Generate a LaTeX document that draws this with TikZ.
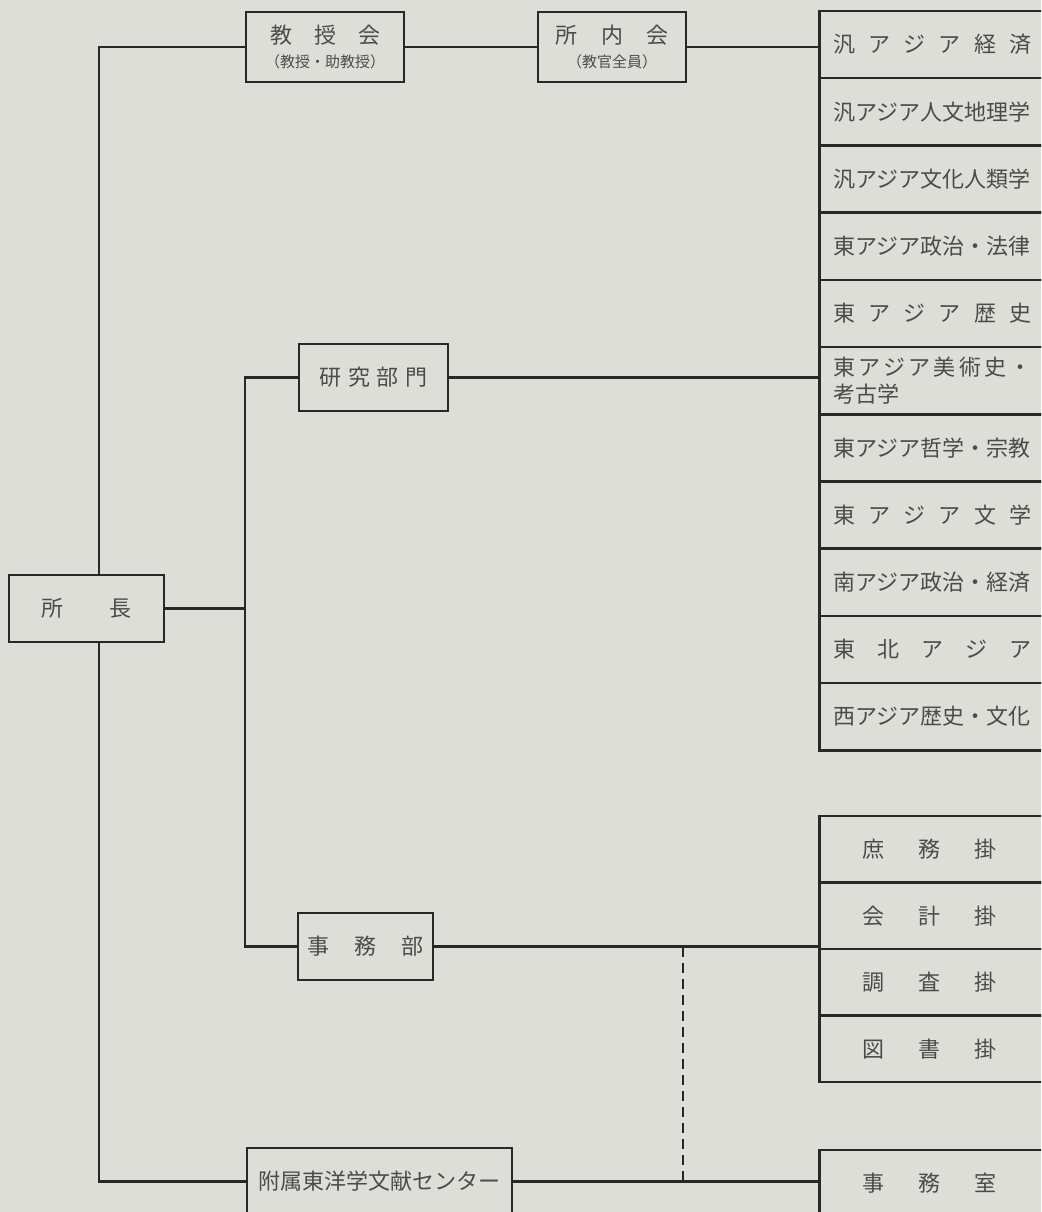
\documentclass[tikz,border=0pt]{standalone}
\usepackage{fontspec}
\setmainfont{Noto Sans CJK JP}
\definecolor{paper}{RGB}{221,222,216}
\definecolor{ink}{RGB}{40,40,40}
\definecolor{type}{RGB}{75,75,75}
\newcommand{\spaced}[2]{\makebox[#1pt][s]{#2}}

\begin{document}
\begin{tikzpicture}[x=1pt, y=-1pt,
  box/.style={draw=ink, line width=2.6pt, text=type, inner sep=0pt, font=\fontsize{22}{27}\selectfont},
  unit/.style={box, anchor=west, minimum height=67.2pt, text width=230pt, align=left, inner xsep=14pt},
  office/.style={box, anchor=west, minimum height=66.5pt, text width=200pt, align=left, inner xsep=43pt},
  link/.style={draw=ink, line width=2.6pt}]
\fill[paper] (0,0) rectangle (1041,1212);
\useasboundingbox (0,0) rectangle (1041,1212);
\clip (0,0) rectangle (1041,1212);

\node[box, minimum width=155pt, minimum height=67pt] (chief) at (86.5,608.5) {\spaced{90}{所\hfill 長}};
\node[box, minimum width=158pt, minimum height=70pt, align=center] (kyoju) at (325,47) {\spaced{110}{教\hfill 授\hfill 会}\\[-3pt]{\fontsize{15}{17}\selectfont （教授・助教授）}};
\node[box, minimum width=148pt, minimum height=70pt, align=center] (shonai) at (612,47) {\spaced{113}{所\hfill 内\hfill 会}\\[-3pt]{\fontsize{15}{17}\selectfont （教官全員）}};
\node[box, minimum width=149pt, minimum height=67pt] (kenkyu) at (373.5,377.5) {\spaced{109}{研\hfill 究\hfill 部\hfill 門}};
\node[box, minimum width=135pt, minimum height=67pt] (jimubu) at (365.5,946.5) {\spaced{116}{事\hfill 務\hfill 部}};
\node[box, minimum width=265pt, minimum height=67pt] (bunken) at (379.5,1181.5) {附属東洋学文献センター};

\node[unit] (u1) at (818,44.6) {\spaced{198}{汎\hfill ア\hfill ジ\hfill ア\hfill 経\hfill 済}};
\node[unit] (u2) at (818,111.8) {汎アジア人文地理学};
\node[unit] (u3) at (818,179) {汎アジア文化人類学};
\node[unit] (u4) at (818,246.2) {東アジア政治・法律};
\node[unit] (u5) at (818,313.4) {\spaced{198}{東\hfill ア\hfill ジ\hfill ア\hfill 歴\hfill 史}};
\node[unit] (u6) at (818,380.6) {\spaced{198}{東\hfill ア\hfill ジ\hfill ア\hfill 美\hfill 術\hfill 史\hfill ・}\\考古学};
\node[unit] (u7) at (818,447.8) {東アジア哲学・宗教};
\node[unit] (u8) at (818,515) {\spaced{198}{東\hfill ア\hfill ジ\hfill ア\hfill 文\hfill 学}};
\node[unit] (u9) at (818,582.2) {南アジア政治・経済};
\node[unit] (u10) at (818,649.4) {\spaced{198}{東\hfill 北\hfill ア\hfill ジ\hfill ア}};
\node[unit] (u11) at (818,716.6) {西アジア歴史・文化};

\node[office] (o1) at (818,849.3) {\spaced{134}{庶\hfill 務\hfill 掛}};
\node[office] (o2) at (818,915.8) {\spaced{134}{会\hfill 計\hfill 掛}};
\node[office] (o3) at (818,982.3) {\spaced{134}{調\hfill 査\hfill 掛}};
\node[office] (o4) at (818,1048.8) {\spaced{134}{図\hfill 書\hfill 掛}};
\node[office] (room) at (818,1183.3) {\spaced{134}{事\hfill 務\hfill 室}};

\coordinate (trunk) at (99,0);
\coordinate (fork) at (245,608.5);
\coordinate (dashx) at (683,0);
\draw[link] (chief.north -| trunk) |- (kyoju.west);
\draw[link] (chief.south -| trunk) |- (bunken.west);
\draw[link] (chief.east) -- (fork);
\draw[link] (kenkyu.west) -| (fork) |- (jimubu.west);
\draw[link] (kyoju.east) -- (shonai.west);
\draw[link] (shonai.east) -- (shonai.east -| u1.west);
\draw[link] (kenkyu.east) -- (kenkyu.east -| u6.west);
\draw[link] (jimubu.east) -- (jimubu.east -| o2.west);
\draw[link] (bunken.east) -- (bunken.east -| room.west);
\draw[link, dash pattern=on 10pt off 6pt] (jimubu.east -| dashx) -- (bunken.east -| dashx);
\end{tikzpicture}
\end{document}
